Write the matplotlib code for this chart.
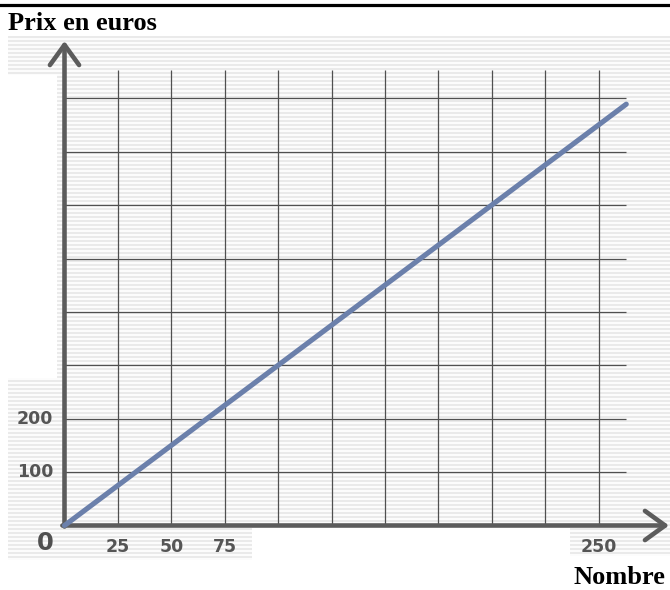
import matplotlib
matplotlib.use("Agg")
import matplotlib.pyplot as plt
from matplotlib.lines import Line2D
import numpy as np

# prix = 3 euros par objet
nombre = [0, 263]
prix = [0, 789]

x_tick_values = [25, 50, 75, 250]
y_tick_values = [100, 200]
grid_x = [25, 50, 75, 100, 125, 150, 175, 200, 225, 250]
grid_y = [100, 200, 300, 400, 500, 600, 700, 800]

W, H = 670, 590
# pixel geometry of the original drawing
ox, oy = 64.5, 525.5          # origin in pixels (from top-left)
px_x = 53.4 / 25               # pixels per unit
px_y = 53.4 / 100              # pixels per euro


def striped_background():
    img = np.ones((H, W, 3))
    rows = np.arange(H)
    shade = np.where(rows % 4 < 2, 0.92, 0.99)
    mask = np.zeros((H, W), dtype=bool)
    mask[36:527, 8:] = True
    mask[75:378, 8:57] = False
    mask[527:560, 8:252] = True
    mask[527:556, 570:] = True
    for c in range(3):
        layer = img[:, :, c]
        layer[mask] = np.broadcast_to(shade[:, None], (H, W))[mask]
    return img


fig = plt.figure(figsize=(W / 100, H / 100), dpi=100)
fig.figimage(striped_background(), 0, 0, zorder=-5)

ax = fig.add_axes([0, 0, 1, 1], zorder=1)
ax.patch.set_visible(False)
ax.set_axis_off()
ax.set_xlim(-ox / px_x, (W - ox) / px_x)
ax.set_ylim(-(H - oy) / px_y, oy / px_y)

grid_color = "#505050"
ax.vlines(grid_x, 0, (oy - 70) / px_y, color=grid_color, lw=0.9, zorder=2)
ax.hlines(grid_y, 0, (626 - ox) / px_x, color=grid_color, lw=0.9, zorder=2)

axis_color = "#5c5c5c"
arrow = dict(arrowstyle="->,head_length=1.45,head_width=1.05", lw=3.3,
             color=axis_color, shrinkA=0, shrinkB=0)
ax.annotate("", xy=(0, (oy - 41) / px_y), xytext=(0, -2), arrowprops=arrow,
            zorder=3)
ax.annotate("", xy=((669 - ox) / px_x, 0), xytext=(-1, 0), arrowprops=arrow,
            zorder=3)

ax.plot(nombre, prix, color="#6b80ab", lw=3.7, solid_capstyle="round",
        zorder=4)

label_style = dict(color="#555555", fontweight="bold", fontsize=12.5,
                   family="DejaVu Sans")
for v in x_tick_values:
    ax.text(v, -(547 - oy) / px_y, str(v), ha="center", va="center",
            **label_style)
for v in y_tick_values:
    ax.text(-(ox - 53) / px_x, v, str(v), ha="right", va="center",
            **label_style)
ax.text(-(ox - 45) / px_x, -(543 - oy) / px_y, "0", ha="center",
        va="center", color="#505050", fontweight="bold", fontsize=17.5,
        family="DejaVu Sans")

title_style = dict(fontweight="bold", fontsize=19, family="Liberation Serif",
                   color="black")
fig.text(8 / W, 1 - 30 / H, "Prix en euros", ha="left", va="baseline",
         **title_style)
fig.text(665 / W, 1 - 584 / H, "Nombre", ha="right", va="baseline",
         **title_style)

fig.add_artist(Line2D([0, 1], [1 - 5 / H, 1 - 5 / H], color="black",
                      lw=2.3))

fig.savefig("out.png", dpi=100)
